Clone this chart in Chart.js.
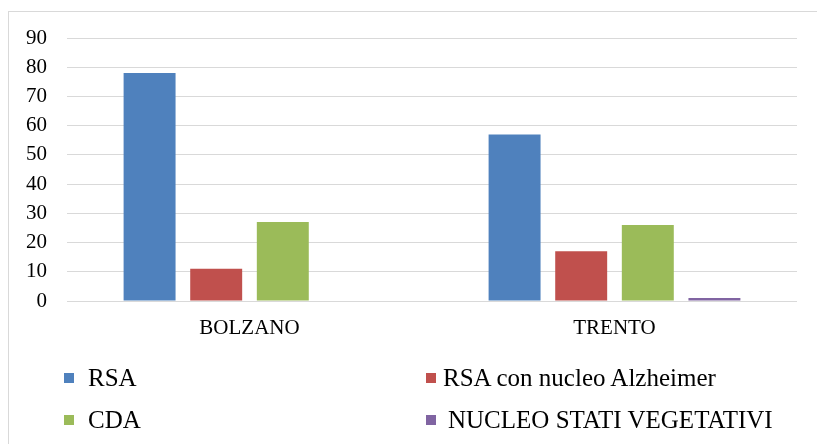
<!DOCTYPE html>
<html>
<head>
<meta charset="utf-8">
<script src="https://cdn.jsdelivr.net/npm/chart.js@4"></script>
<style>
  html, body { margin: 0; padding: 0; background: #fff; }
  #wrap { position: relative; width: 817px; height: 444px; overflow: hidden; }
  #frame { position: absolute; left: 8px; top: 11px; width: 830px; height: 460px;
           border-left: 1px solid #d9d9d9; border-top: 1px solid #d9d9d9; }
  canvas { position: absolute; left: 0; top: 0; }
  .txt { position: absolute; white-space: nowrap; line-height: 24px; color: #000; }
  .sq { position: absolute; width: 10px; height: 10px; }
</style>
</head>
<body style="font-family:'Liberation Serif'">
<div id="wrap">
  <div id="frame"></div>
  <canvas id="chart" width="817" height="444"></canvas>
  <div id="legend" style="font-family:'Liberation Serif';font-size:25px"></div>
</div>
<script>
// dati
const categorie = ['BOLZANO', 'TRENTO'];
const serie = ['RSA', 'RSA con nucleo Alzheimer', 'CDA', 'NUCLEO STATI VEGETATIVI'];
const rsa = [78, 57];
const rsaAlzheimer = [11, 17];
const cda = [27, 26];
const nucleoVegetativi = [0, 1];
const colori = ['#4F81BD', '#C0504D', '#9BBB59', '#8064A2'];
const yTicks = [0, 10, 20, 30, 40, 50, 60, 70, 80, 90];

const valori = [rsa, rsaAlzheimer, cda, nucleoVegetativi];
Chart.defaults.font.family = 'Liberation Serif';
Chart.defaults.color = '#000';

// legenda a due colonne (quadratino, testo)
const legend = document.getElementById('legend');
const sqPos = [[64, 373], [426, 373], [64, 415], [426, 415]];
const txtPos = [[88, 366], [443, 366], [88, 408], [448, 408]];
serie.forEach((nome, i) => {
  const q = document.createElement('div');
  q.className = 'sq';
  q.style.left = sqPos[i][0] + 'px';
  q.style.top = sqPos[i][1] + 'px';
  q.style.background = colori[i];
  legend.appendChild(q);
  const t = document.createElement('div');
  t.className = 'txt';
  t.style.left = txtPos[i][0] + 'px';
  t.style.top = txtPos[i][1] + 'px';
  t.textContent = nome;
  legend.appendChild(t);
});

const ctx = document.getElementById('chart').getContext('2d');
const chart = new Chart(ctx, {
  type: 'bar',
  data: {
    labels: categorie,
    datasets: serie.map((nome, i) => ({
      label: nome,
      data: valori[i],
      backgroundColor: colori[i],
      borderWidth: 0,
      categoryPercentage: 0.73,
      barPercentage: 0.78
    }))
  },
  options: {
    responsive: false,
    animation: false,
    layout: { padding: { left: 8, right: 20, top: 38, bottom: 0 } },
    plugins: {
      legend: { display: false },
      tooltip: { enabled: false }
    },
    scales: {
      x: {
        grid: { display: false, drawTicks: false },
        border: { display: false },
        ticks: { color: '#000', font: { size: 21 }, padding: 15 },
        afterFit: (s) => { s.height = 143; }
      },
      y: {
        min: 0,
        max: 90,
        afterBuildTicks: (s) => { s.ticks = yTicks.map(v => ({ value: v })); },
        grid: { color: '#d9d9d9', lineWidth: 1, drawTicks: false },
        border: { display: false },
        ticks: { color: '#000', font: { size: 21 }, padding: 20 },
        afterFit: (s) => { s.width = 59; }
      }
    }
  }
});
</script>
</body>
</html>
